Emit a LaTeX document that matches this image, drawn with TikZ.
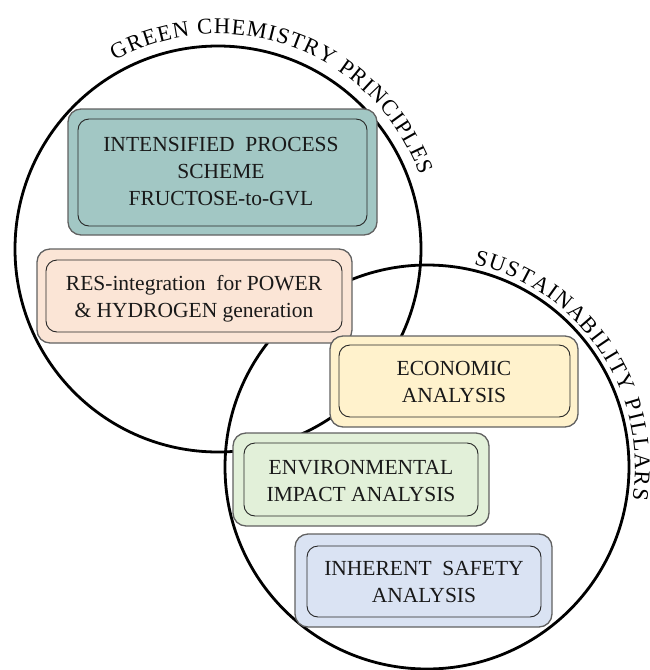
\documentclass[tikz,border=0pt]{standalone}
\usepackage{fontspec}
\setmainfont{Liberation Serif}
\usetikzlibrary{decorations.text}
\definecolor{tealfill}{HTML}{A2C7C4}
\definecolor{peachfill}{HTML}{FBE5D6}
\definecolor{yellowfill}{HTML}{FFF2CC}
\definecolor{greenfill}{HTML}{E2F0D9}
\definecolor{bluefill}{HTML}{DAE3F3}
\newcommand\boxtext[1]{\fontsize{21.5}{27}\selectfont\begin{tabular}[t]{@{}c@{}}#1\end{tabular}}
\newcommand\curvefont{\fontsize{22.5}{27}\selectfont}
\begin{document}
\curvefont
\begin{tikzpicture}[x=1pt,y=1pt,
  ring/.style={circle, draw=black, line width=2.8pt, inner sep=0pt},
  outerbox/.style={draw=black!62, line width=1.3pt, rounded corners=13pt, inner sep=0pt},
  innerbox/.style={draw=black!85, line width=0.9pt, rounded corners=11pt, inner sep=0pt},
  boxlabel/.style={anchor=base, inner sep=0pt, text=black!90},
  curvelabel/.style={decorate, decoration={text along path, text align={fit to path}}}]
\useasboundingbox (0,0) rectangle (649,-670);
% circles
\node[ring, minimum size=406pt] (gcp) at (218,-249) {};
\node[ring, minimum size=404pt] (sp) at (427,-467) {};
% curved labels
\path[curvelabel, decoration={text={GREEN CHEMISTRY PRINCIPLES}}]
  (gcp.center) ++(118.7:215) arc[start angle=118.7, end angle=20, radius=215];
\path[curvelabel, decoration={text={SUSTAINABILITY PILLARS}}]
  (sp.center) ++(77:208) arc[start angle=77, end angle=-9, radius=208];
% box 1
\node[outerbox, fill=tealfill, minimum width=309pt, minimum height=126pt] (b1) at (222.5,-172) {};
\node[innerbox, minimum width=289pt, minimum height=107pt] (b1i) at (222.5,-172.5) {};
\node[boxlabel] (t1) at (221,-151) {\boxtext{INTENSIFIED~ PROCESS\\SCHEME\\FRUCTOSE-to-GVL}};
% box 2
\node[outerbox, fill=peachfill, minimum width=315pt, minimum height=94pt] (b2) at (194.5,-296) {};
\node[innerbox, minimum width=296pt, minimum height=72pt] (b2i) at (194,-296) {};
\node[boxlabel] (t2) at (194,-290) {\boxtext{RES-integration~ for POWER\\\& HYDROGEN generation}};
% box 3
\node[outerbox, fill=yellowfill, minimum width=248pt, minimum height=91pt] (b3) at (454,-381.5) {};
\node[innerbox, minimum width=231pt, minimum height=72pt] (b3i) at (454.5,-381) {};
\node[boxlabel] (t3) at (454,-375) {\boxtext{ECONOMIC\\ANALYSIS}};
% box 4
\node[outerbox, fill=greenfill, minimum width=256pt, minimum height=93pt] (b4) at (361,-479.5) {};
\node[innerbox, minimum width=234pt, minimum height=73pt] (b4i) at (361,-479.5) {};
\node[boxlabel] (t4) at (361,-474) {\boxtext{ENVIRONMENTAL\\IMPACT ANALYSIS}};
% box 5
\node[outerbox, fill=bluefill, minimum width=257pt, minimum height=93pt] (b5) at (423.5,-580.5) {};
\node[innerbox, minimum width=234pt, minimum height=71pt] (b5i) at (424,-581.5) {};
\node[boxlabel] (t5) at (424,-575) {\boxtext{INHERENT~ SAFETY\\ANALYSIS}};
\end{tikzpicture}
\end{document}
